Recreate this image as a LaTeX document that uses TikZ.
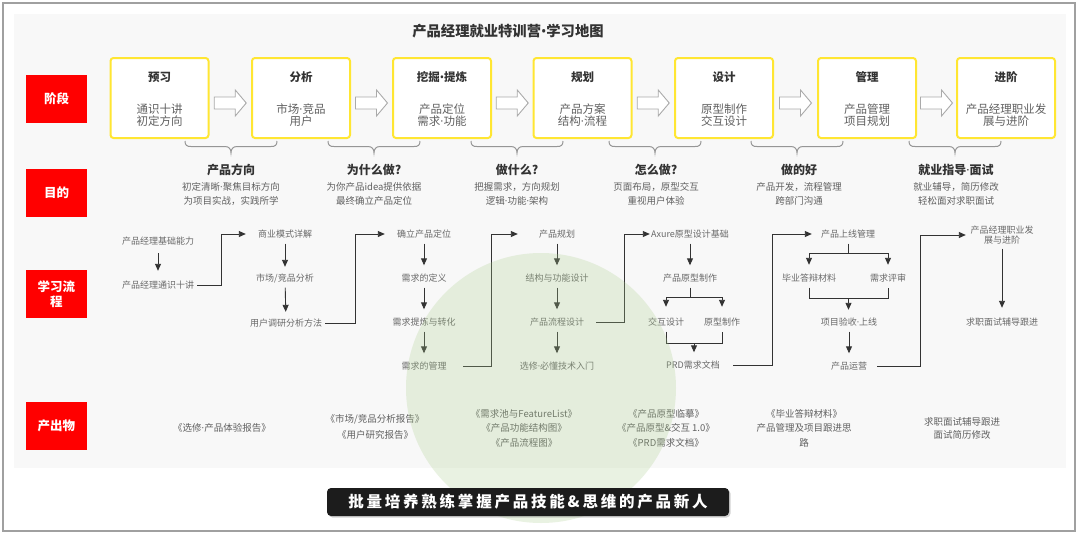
\documentclass[tikz,border=0pt]{standalone}
\usepackage{fontspec}
\setmainfont{Noto Sans CJK SC}
\newfontfamily\bannerfont{Noto Sans CJK SC}[LetterSpace=18]
\newfontfamily\narrowdotfont{Noto Sans}
\newcommand\mdot{{\narrowdotfont ·}}
\newcommand\mbul{{\narrowdotfont •}}
\usetikzlibrary{arrows.meta,calc,shadows}
\definecolor{framegray}{RGB}{160,160,160}
\definecolor{panelc}{RGB}{248,248,248}
\definecolor{labred}{RGB}{255,0,0}
\definecolor{yellowb}{RGB}{255,230,50}
\definecolor{txtdark}{RGB}{51,51,51}
\definecolor{txtgray}{RGB}{96,96,96}
\definecolor{flowtxt}{RGB}{105,105,105}
\definecolor{arrowc}{RGB}{51,51,51}
\definecolor{hollowc}{RGB}{170,170,170}
\definecolor{bracec}{RGB}{150,150,150}
\definecolor{circc}{RGB}{170,205,140}
\definecolor{bannerc}{RGB}{28,28,28}
\begin{document}
\begin{tikzpicture}[x=1pt,y=-1pt,
  redlab/.style={fill=labred,text=white,font=\fontsize{12.5}{15}\selectfont\bfseries,minimum width=61pt,minimum height=48pt,inner sep=0pt,align=center},
  stagebox/.style={draw=yellowb,line width=2pt,fill=white,rounded corners=3pt,minimum width=98pt,minimum height=80pt,inner sep=0pt},
  stagetitle/.style={text=txtdark,font=\fontsize{11.5}{13}\selectfont\bfseries,inner sep=0pt},
  stagesub/.style={text=txtgray,font=\fontsize{11.5}{12.5}\selectfont,align=center,inner sep=0pt},
  hollow/.style={draw=hollowc,fill=white,line width=0.9pt,line join=miter},
  bracestyle/.style={draw=bracec,line width=1pt},
  purtitle/.style={text=txtdark,font=\fontsize{12}{14}\selectfont\bfseries,inner sep=0pt},
  pursub/.style={text=txtgray,font=\fontsize{9.5}{14.5}\selectfont,align=center,inner sep=0pt},
  fnode/.style={text=flowtxt,font=\fontsize{9}{10}\selectfont,minimum width=78pt,minimum height=19pt,inner sep=0pt,align=center},
  flow/.style={draw=arrowc,line width=0.9pt,-{Triangle[length=7pt,width=6pt]},shorten >=3pt},
  jump/.style={draw=arrowc,line width=0.9pt,-{Triangle[length=7pt,width=6pt]}},
  flowline/.style={draw=arrowc,line width=0.9pt},
  outtxt/.style={text=txtgray,font=\fontsize{9.5}{14.5}\selectfont,align=center,inner sep=0pt},
  banner/.style={fill=bannerc,rounded corners=4pt,minimum width=402pt,minimum height=28pt,inner sep=0pt,text=white,font=\bannerfont\fontsize{15.5}{17}\selectfont\bfseries,drop shadow={shadow xshift=1.5pt,shadow yshift=-1.5pt,opacity=0.35}}
]
\useasboundingbox (0,0) rectangle (1080,533);
\fill[white] (0,0) rectangle (1080,533);
\draw[framegray,line width=2.5pt] (3,3) rectangle (1075,531);
\fill[panelc] (14,14) rectangle (1066,468);

% title
\node[text=txtdark,font=\fontsize{14.3}{16}\selectfont\bfseries,inner sep=0pt] (title) at (508,31) {产品经理就业特训营\mbul 学习地图};

% red labels
\node[redlab] (l1) at (56.5,99) {阶段};
\node[redlab] (l2) at (56.5,193) {目的};
\node[redlab,text depth=0pt] (l3) at (56.5,294) {学习流\\程};
\node[redlab] (l4) at (56.5,425.5) {产出物};

% stage boxes
\foreach \n/\x/\t/\s in {1/159.5/预习/{通识十讲\\初定方向},
                        2/301/分析/{市场\mdot 竞品\\用户},
                        3/442/{挖掘\mbul 提炼}/{产品定位\\需求\mdot 功能},
                        4/582.5/规划/{产品方案\\结构\mdot 流程},
                        5/724/设计/{原型制作\\交互设计},
                        6/867/管理/{产品管理\\项目规划},
                        7/1006/进阶/{产品经理职业发\\展与进阶}}{
  \node[stagebox] (s\n) at (\x,98) {};
  \node[stagetitle] (st\n) at ([yshift=21pt]s\n.center) {\t};
  \node[stagesub] (ss\n) at ([yshift=-17pt]s\n.center) {\s};
}

% hollow arrows
\foreach \a/\b in {1/2,2/3,3/4,4/5,5/6,6/7}{
  \draw[hollow] ($(s\a.east)!0.5!(s\b.west)$) ++(-16,-1) -- ++(21,0) -- ++(0,-7) -- ++(11,13) -- ++(-11,13) -- ++(0,-7) -- ++(-21,0) -- cycle;
}

% braces
\foreach \cx in {231,374,517,655,797,955}{
  \draw[bracestyle] ({\cx-46},141) .. controls ({\cx-46},145.5) and ({\cx-44},146.5) .. ({\cx-40},146.5) -- ({\cx-6},146.5) .. controls ({\cx-2},146.5) and (\cx,149) .. (\cx,153) .. controls (\cx,149) and ({\cx+2},146.5) .. ({\cx+6},146.5) -- ({\cx+40},146.5) .. controls ({\cx+44},146.5) and ({\cx+46},145.5) .. ({\cx+46},141);
}

% purpose
\foreach \n/\x/\t/\s in {1/231/产品方向/{初定清晰\mdot 聚焦目标方向\\为项目实战，实践所学},
                        2/374/为什么做?/{为你产品idea提供依据\\最终确立产品定位},
                        3/517/做什么?/{把握需求，方向规划\\逻辑\mdot 功能\mdot 架构},
                        4/656/怎么做?/{页面布局，原型交互\\重视用户体验},
                        5/799/做的好/{产品开发，流程管理\\跨部门沟通},
                        6/956/{就业指导\mdot 面试}/{就业辅导，简历修改\\轻松面对求职面试}}{
  \node[purtitle] (pt\n) at (\x,169.5) {\t};
  \node[pursub] (ps\n) at (\x,194) {\s};
}

% learning flow nodes
\node[fnode] (c1a) at (158,241) {产品经理基础能力};
\node[fnode] (c1b) at (158,285) {产品经理通识十讲};
\node[fnode] (c2a) at (285,234) {商业模式详解};
\node[fnode] (c2b) at (285,278) {市场/竞品分析};
\node[fnode] (c2c) at (286,323) {用户调研分析方法};
\node[fnode] (c3a) at (424,234) {确立产品定位};
\node[fnode] (c3b) at (424,278) {需求的定义};
\node[fnode] (c3c) at (424,322) {需求提炼与转化};
\node[fnode] (c3d) at (424,366) {需求的管理};
\node[fnode] (c4a) at (557,234) {产品规划};
\node[fnode] (c4b) at (557,278) {结构与功能设计};
\node[fnode] (c4c) at (557,322) {产品流程设计};
\node[fnode] (c4d) at (557,366) {选修\mdot 必懂技术入门};
\node[fnode,minimum width=80pt] (c5a) at (690,234) {Axure原型设计基础};
\node[fnode] (c5b) at (690,278) {产品原型制作};
\node[fnode,minimum width=40pt] (c5c) at (666,322) {交互设计};
\node[fnode,minimum width=40pt] (c5d) at (722,322) {原型制作};
\node[fnode,minimum width=80pt] (c5e) at (693,365) {PRD需求文档};
\node[fnode,minimum width=72pt] (c6a) at (848,234) {产品上线管理};
\node[fnode,minimum width=60pt] (c6b) at (809,278) {毕业答辩材料};
\node[fnode,minimum width=40pt] (c6c) at (888,278) {需求评审};
\node[fnode] (c6d) at (849,322) {项目验收\mdot 上线};
\node[fnode,minimum width=56pt] (c6e) at (849,366) {产品运营};
\node[fnode,minimum width=72pt] (c7a) at (1002,235) {产品经理职业发\\展与进阶};
\node[fnode] (c7b) at (1002,322) {求职面试辅导跟进};

% vertical connectors
\draw[flow,shorten <=2.5pt,shorten >=4.5pt] (c1a) -- (c1b);
\draw[flow,shorten >=1.5pt] (c2a) -- (c2b);
\draw[flow,shorten >=1.5pt] (c2b) -- (c2c);
\draw[flow] (c3a) -- (c3b);
\draw[flow] (c3b) -- (c3c);
\draw[flow] (c3c) -- (c3d);
\draw[flow] (c4a) -- (c4b);
\draw[flow] (c4b) -- (c4c);
\draw[flow] (c4c) -- (c4d);
\draw[flow] (c5a) -- (c5b);
\draw[flowline] (c5b.south) -- ++(0,9.5) coordinate (b5);
\draw[flow,shorten >=5.5pt] (b5) -| (c5c.north);
\draw[flow,shorten >=5.5pt] (b5) -| (c5d.north);
\draw[flowline] (c5c.south) -- ++(0,12) -| (c5d.south);
\coordinate (m5) at ($(c5c.south)!0.5!(c5d.south)+(0,12)$);
\draw[flow] (m5) -- (m5 |- c5e.north);
\draw[flowline] (c6a.south) -- ++(0,10) coordinate (b6);
\draw[flow,shorten >=3.5pt] (b6) -| (c6b.north);
\draw[flow,shorten >=3.5pt] (b6) -| (c6c.north);
\draw[flowline] (c6b.south) -- ++(0,10.5) -| (c6c.south);
\coordinate (m6) at ($(c6b.south)!0.5!(c6c.south)+(0,10.5)$);
\draw[flow,shorten >=2.5pt] (m6) -- (m6 |- c6d.north);
\draw[flow] (c6d) -- (c6e);
\draw[flow,shorten <=4pt,shorten >=4.5pt] (c7a) -- (c7b);

% jump connectors
\draw[jump] (c1b.east) -- ++(24,0) |- (c2a.west);
\draw[jump] (c2c.east) -- ++(30,0) |- (c3a.west);
\draw[jump] (c3d.east) -- ++(28,0) |- (c4a.west);
\draw[jump] (c4c.east) -- ++(28,0) |- (c5a.west);
\draw[jump] (c5e.east) -- ++(39,0) |- (c6a.west);
\draw[jump] (c6e.east) -- ++(43,0) |- (c7a.west);

% outputs
\node[outtxt] (o1) at (222,428) {《选修\mdot 产品体验报告》};
\node[outtxt,font=\fontsize{9.5}{15.5}\selectfont] (o2) at (375,427) {《市场/竞品分析报告》\\《用户研究报告》};
\node[outtxt] (o3) at (524,428) {《需求池与FeatureList》\\《产品功能结构图》\\《产品流程图》};
\node[outtxt] (o4) at (666,428) {《产品原型临摹》\\《产品原型\&交互 1.0》\\《PRD需求文档》};
\node[outtxt] (o5) at (804,428) {《毕业答辩材料》\\产品管理及项目跟进思\\路};
\node[outtxt,font=\fontsize{9.5}{13}\selectfont] (o6) at (962,428.5) {求职面试辅导跟进\\面试简历修改};

% green circle overlay
\fill[circc,opacity=0.25] (541,388) circle[radius=135];

% banner
\node[banner] (bn) at (528,502) {批量培养熟练掌握产品技能\&思维的产品新人};
\end{tikzpicture}
\end{document}
